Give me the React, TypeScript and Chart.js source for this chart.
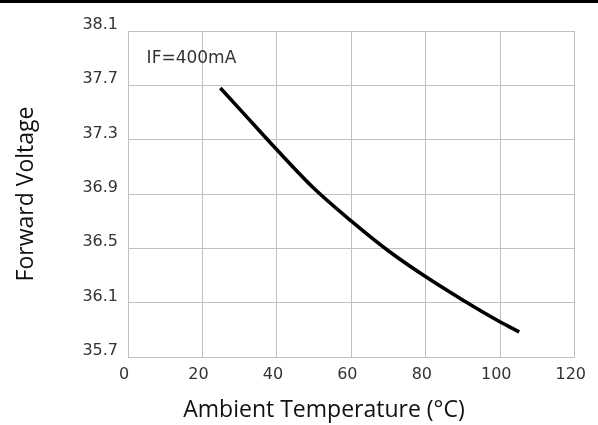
import React, { useEffect, useRef } from "react";
import { Chart, registerables } from "chart.js";

Chart.register(...registerables);

const temperatures = [24.8, 30, 40, 50, 60, 70, 80, 90, 100, 105.1];
const forwardVoltage = [37.68, 37.525, 37.225, 36.94, 36.7, 36.48, 36.29, 36.118, 35.958, 35.885];
const xTicks = [0, 20, 40, 60, 80, 100, 120];
const yTicks = [35.7, 36.1, 36.5, 36.9, 37.3, 37.7, 38.1];
const annotationText = "IF=400mA";
const annotationPos = { x: 5, y: 37.868 };
const xTitle = "Ambient Temperature (°C)";
const yTitle = "Forward Voltage";

const tickFont = { family: "'DejaVu Sans', Verdana, sans-serif", size: 16 };
const annotationFont = "17px 'DejaVu Sans', Verdana, sans-serif";
const titleFont = "23px 'Open Sans', sans-serif";

const textPlugin = {
  id: "textLayer",
  afterDraw(chart: any) {
    const { ctx, scales } = chart;
    const x = scales.x.getPixelForValue(annotationPos.x);
    const y = scales.y.getPixelForValue(annotationPos.y);
    ctx.save();
    ctx.font = annotationFont;
    ctx.fillStyle = "#333";
    ctx.textAlign = "left";
    ctx.textBaseline = "alphabetic";
    ctx.fillText(annotationText, x, y);

    // axis titles
    ctx.font = titleFont;
    ctx.fillStyle = "#111";
    ctx.textAlign = "center";
    ctx.textBaseline = "alphabetic";
    ctx.fillText(xTitle, 324, 417);

    ctx.translate(33, (chart.chartArea.top + chart.chartArea.bottom) / 2);
    ctx.rotate(-Math.PI / 2);
    ctx.fillText(yTitle, 0, 0);
    ctx.restore();
  },
};

export default function App() {
  const canvasRef = useRef<HTMLCanvasElement>(null);

  useEffect(() => {
    document.body.style.margin = "0";
    const canvas = canvasRef.current;
    if (!canvas) return;
    const chart = new Chart(canvas, {
      type: "line",
      data: {
        datasets: [
          {
            data: temperatures.map((t, i) => ({ x: t, y: forwardVoltage[i] })),
            borderColor: "#000",
            borderWidth: 3.6,
            pointRadius: 0,
            cubicInterpolationMode: "monotone",
            fill: false,
          },
        ],
      },
      options: {
        responsive: false,
        animation: false,
        devicePixelRatio: 1,
        layout: { padding: { top: 31, right: 22, left: 0, bottom: 0 } },
        plugins: {
          legend: { display: false },
          tooltip: { enabled: false },
        },
        scales: {
          x: {
            type: "linear",
            min: 0,
            max: 120,
            afterFit: (s: any) => {
              s.height = 68;
            },
            afterBuildTicks: (s: any) => {
              s.ticks = xTicks.map((v) => ({ value: v }));
            },
            grid: { color: "#c0c0c0", lineWidth: 1, drawTicks: false },
            border: { color: "#c0c0c0", width: 1 },
            ticks: { font: tickFont, color: "#333", padding: 8, maxRotation: 0, labelOffset: -4 },
          },
          y: {
            type: "linear",
            min: 35.7,
            max: 38.1,
            afterFit: (s: any) => {
              s.width = 128;
            },
            afterBuildTicks: (s: any) => {
              s.ticks = yTicks.map((v) => ({ value: v }));
            },
            grid: { color: "#c0c0c0", lineWidth: 1, drawTicks: false },
            border: { color: "#c0c0c0", width: 1 },
            ticks: {
              font: tickFont,
              color: "#333",
              padding: 10,
              labelOffset: -6,
              callback: (v: any) => Number(v).toFixed(1),
            },
          },
        },
      },
      plugins: [textPlugin],
    });
    return () => chart.destroy();
  }, []);

  return (
    <div style={{ position: "absolute", left: 0, top: 0, width: 598, height: 425, background: "#fff" }}>
      <div style={{ position: "absolute", left: 0, top: 0, width: 598, height: 3, background: "#000" }} />
      <canvas ref={canvasRef} width={598} height={425} style={{ display: "block" }} />
    </div>
  );
}
